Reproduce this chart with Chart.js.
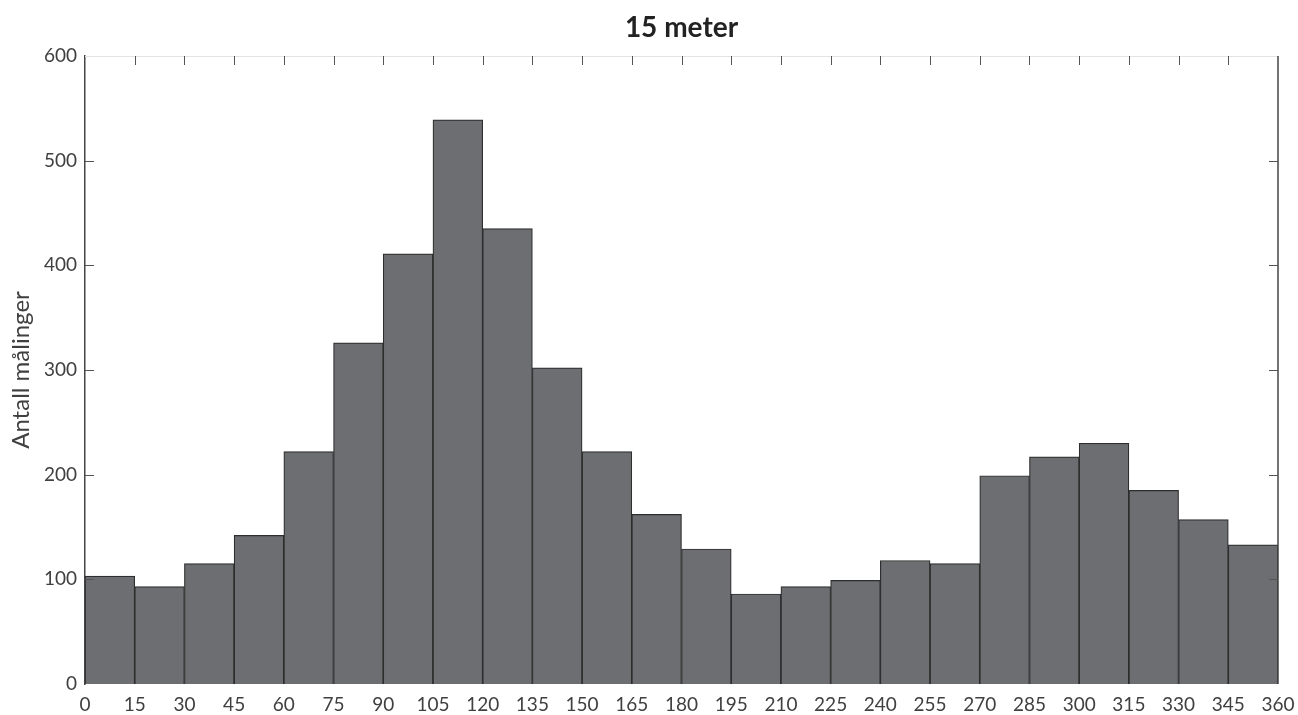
<!DOCTYPE html>
<html>
<head>
<meta charset="utf-8">
<script src="https://cdn.jsdelivr.net/npm/chart.js@4.4.0/dist/chart.umd.min.js"></script>
<style>
  html, body { margin: 0; padding: 0; background: #fff; }
  #wrap { width: 1298px; height: 715px; }
</style>
</head>
<body>
<div id="wrap"><canvas id="chart"></canvas></div>
<script>
// bin edges (degrees) and counts per bin
const binEdges = [0, 15, 30, 45, 60, 75, 90, 105, 120, 135, 150, 165, 180,
  195, 210, 225, 240, 255, 270, 285, 300, 315, 330, 345, 360];
const counts = [103, 93, 115, 142, 222, 326, 411, 539, 435, 302, 222, 162,
  129, 86, 93, 99, 118, 115, 199, 217, 230, 185, 157, 133];
const yTicks = [0, 100, 200, 300, 400, 500, 600];

const titleText = "15 meter";
const yLabel = "Antall målinger";

const bars = counts.map((c, i) => ({ x: (binEdges[i] + binEdges[i + 1]) / 2, y: c }));

// frame, inward ticks and title centred on the plot area (matlab style)
const frame = {
  id: 'frame',
  afterDatasetsDraw(chart) {
    const { ctx, chartArea: a, scales: { x, y } } = chart;
    ctx.save();
    ctx.lineWidth = 1;
    // top line (faint)
    ctx.strokeStyle = '#e4e4e4';
    ctx.beginPath();
    ctx.moveTo(a.left, a.top + 0.5);
    ctx.lineTo(a.right, a.top + 0.5);
    ctx.stroke();
    // right line
    ctx.strokeStyle = '#444';
    ctx.lineWidth = 1.5;
    ctx.beginPath();
    ctx.moveTo(a.right, a.top);
    ctx.lineTo(a.right, a.bottom);
    ctx.stroke();

    ctx.lineWidth = 1;
    ctx.strokeStyle = '#555';
    const tl = 9;
    x.ticks.forEach(t => {
      if (t.value === x.min || t.value === x.max) return;
      const px = Math.round(x.getPixelForValue(t.value)) + 0.5;
      ctx.beginPath();
      ctx.moveTo(px, a.top);
      ctx.lineTo(px, a.top + tl);
      ctx.stroke();
    });
    y.ticks.forEach(t => {
      if (t.value === y.min || t.value === y.max) return;
      const py = Math.round(y.getPixelForValue(t.value)) + 0.5;
      ctx.beginPath();
      ctx.moveTo(a.left, py);
      ctx.lineTo(a.left + tl, py);
      ctx.moveTo(a.right, py);
      ctx.lineTo(a.right - tl, py);
      ctx.stroke();
    });

    // title
    ctx.fillStyle = '#222';
    ctx.font = "bold 28px Lato, 'Open Sans', sans-serif";
    ctx.textAlign = 'center';
    ctx.textBaseline = 'middle';
    ctx.fillText(titleText, (a.left + a.right) / 2, 28);
    ctx.restore();
  }
};

Chart.defaults.font.family = "Lato, 'Open Sans', sans-serif";
Chart.defaults.color = '#404040';

new Chart(document.getElementById('chart'), {
  type: 'bar',
  data: {
    datasets: [{
      data: bars,
      backgroundColor: '#6d6e71',
      borderColor: '#2e2e2e',
      borderWidth: 1.2,
      categoryPercentage: 1,
      barPercentage: 1
    }]
  },
  options: {
    responsive: true,
    maintainAspectRatio: false,
    animation: false,
    layout: { padding: { left: 0, right: 20, top: 56, bottom: 0 } },
    plugins: {
      legend: { display: false },
      tooltip: { enabled: false },
      title: { display: false }
    },
    scales: {
      x: {
        type: 'linear',
        offset: false,
        min: 0,
        max: 360,
        grid: { display: false, drawTicks: false, offset: false },
        border: { display: false },
        ticks: {
          stepSize: 15,
          autoSkip: false,
          maxRotation: 0,
          padding: 9,
          font: { size: 19 }
        },
        afterBuildTicks: s => { s.ticks = binEdges.map(v => ({ value: v })); },
        afterFit: s => { s.height = 31; s.paddingLeft = 0; s.paddingRight = 0; }
      },
      y: {
        min: 0,
        max: 600,
        grid: { display: false, drawTicks: false },
        border: { display: true, color: '#444', width: 1.5 },
        ticks: { stepSize: 100, padding: 8, font: { size: 19 } },
        afterBuildTicks: s => { s.ticks = yTicks.map(v => ({ value: v })); },
        title: {
          display: true,
          text: yLabel,
          font: { size: 24 },
          padding: { top: 7, bottom: 0 }
        },
        afterFit: s => { s.width = 85; }
      }
    }
  },
  plugins: [frame]
});
</script>
</body>
</html>
